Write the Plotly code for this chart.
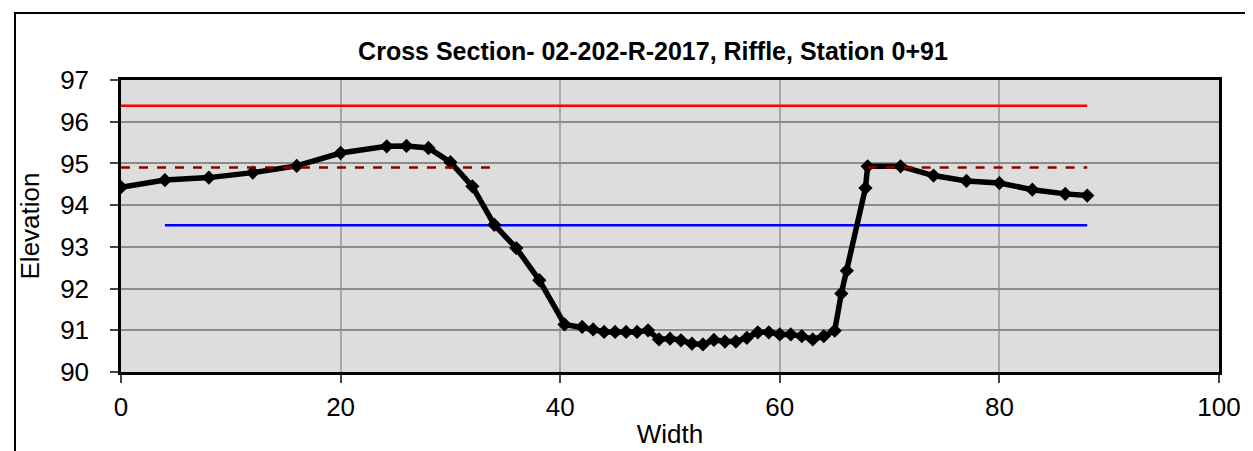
import plotly.graph_objects as go

# Surveyed cross-section
width = [0, 4, 8, 12, 16, 20, 24.2, 26, 28, 30, 32, 34, 36, 38.1, 40.4, 42, 43, 44, 45, 46, 47, 48,
         49, 50, 51, 52, 53, 54, 55, 56, 57, 58, 59, 60, 61, 62, 63, 64, 65, 65.6, 66.1, 67.8, 68,
         71, 74, 77, 80, 83, 86, 88]
elevation = [94.43, 94.60, 94.66, 94.78, 94.94, 95.25, 95.41, 95.42, 95.37, 95.03, 94.45, 93.53,
             92.97, 92.20, 91.14, 91.08, 91.02, 90.96, 90.96, 90.96, 90.96, 91.00, 90.78, 90.80,
             90.76, 90.68, 90.66, 90.77, 90.73, 90.73, 90.82, 90.95, 90.95, 90.90, 90.90, 90.86,
             90.78, 90.86, 90.99, 91.88, 92.43, 94.41, 94.93, 94.93, 94.71, 94.58, 94.53, 94.37,
             94.27, 94.23]

# Reference elevations
red_x = [0, 88]
red_y = [96.38, 96.38]
blue_x = [4, 88]
blue_y = [93.52, 93.52]
dash1_x = [0, 33.7]
dash1_y = [94.90, 94.90]
dash2_x = [68, 88]
dash2_y = [94.90, 94.90]

x_ticks = [0, 20, 40, 60, 80, 100]
y_ticks = [90, 91, 92, 93, 94, 95, 96, 97]

fig = go.Figure()
fig.add_trace(go.Scatter(x=red_x, y=red_y, mode="lines",
                         line=dict(color="#FF0000", width=2.5), showlegend=False))
fig.add_trace(go.Scatter(x=blue_x, y=blue_y, mode="lines",
                         line=dict(color="#0000FF", width=2.5), showlegend=False))
fig.add_trace(go.Scatter(x=width, y=elevation, mode="lines+markers",
                         line=dict(color="#000000", width=5.5),
                         marker=dict(symbol="diamond", size=11, color="#000000"),
                         showlegend=False))
fig.add_trace(go.Scatter(x=dash1_x, y=dash1_y, mode="lines",
                         line=dict(color="#8B0000", width=2.5, dash="dash"), showlegend=False))
fig.add_trace(go.Scatter(x=dash2_x, y=dash2_y, mode="lines",
                         line=dict(color="#8B0000", width=2.5, dash="dash"), showlegend=False))

font_family = "Liberation Sans, Arial, sans-serif"

fig.update_layout(
    width=1253, height=451,
    margin=dict(l=113, r=42, t=72, b=87, autoexpand=False),
    paper_bgcolor="white",
    plot_bgcolor="#DDDDDD",
    font=dict(family=font_family, color="black", size=26),
    title=dict(text="<b>Cross Section- 02-202-R-2017, Riffle, Station 0+91</b>",
               x=(645 - 113) / 1098, xref="paper", xanchor="center",
               y=1 - 43 / 451, yref="container", yanchor="middle",
               font=dict(size=25, family=font_family, color="black")),
    xaxis=dict(range=[0, 100], tickvals=x_ticks, ticks="outside", ticklen=8,
               tickcolor="#444444", tickwidth=1.5,
               showgrid=True, gridcolor="#A8A8A8", gridwidth=1.5,
               showline=True, linecolor="black", linewidth=2.5, mirror=True,
               zeroline=False, ticklabelstandoff=2, automargin=False,
               title=dict(text="Width", standoff=4, font=dict(size=26))),
    yaxis=dict(range=[90, 97], tickvals=y_ticks, ticks="outside", ticklen=8,
               tickcolor="#444444", tickwidth=1.5,
               showgrid=True, gridcolor="#8C8C8C", gridwidth=1.5,
               showline=True, linecolor="black", linewidth=2.5, mirror=True,
               zeroline=False, ticklabelstandoff=16, automargin=False,
               title=dict(text="Elevation", standoff=14, font=dict(size=26))),
)

# Outer chart frame
fig.add_shape(type="rect", xref="paper", yref="paper",
              x0=(7 - 113) / 1098, x1=1.06, y0=(364 - 449) / 292, y1=(364 - 5) / 292,
              line=dict(color="black", width=2), fillcolor="rgba(0,0,0,0)", layer="below")

fig.write_html("out.html")
